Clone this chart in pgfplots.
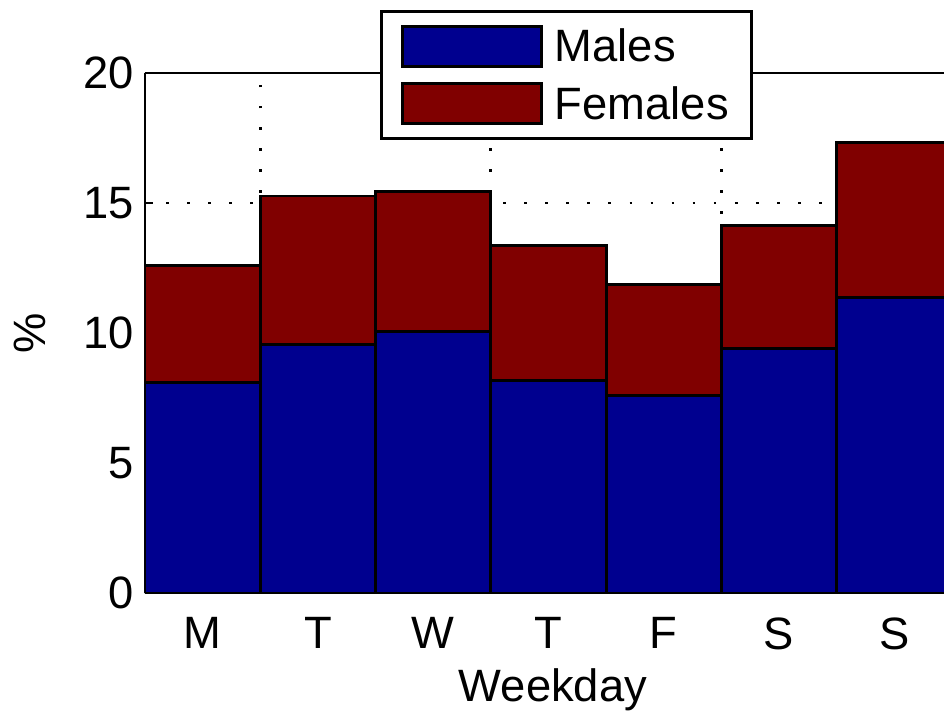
\documentclass[border=0pt]{standalone}
\usepackage{pgfplots}
\pgfplotsset{compat=1.18}
\usepackage{fontspec}
\setmainfont{Liberation Sans}
\definecolor{mblue}{RGB}{0,0,143}
\definecolor{mred}{RGB}{128,0,0}
\newcommand{\bigfont}{\fontsize{34}{40}\selectfont}
\begin{document}
\begin{tikzpicture}
\begin{axis}[
  name=ax,
  scale only axis,
  width=605.25pt, height=390pt,
  xmin=0.5, xmax=7.5, ymin=0, ymax=20,
  ybar stacked, bar width=1,
  separate axis lines,
  axis line style={line width=2.2pt},
  every outer x axis line/.append style={line width=2.2pt},
  every outer y axis line/.append style={line width=2.2pt},
  xtick={1,2,3,4,5,6,7},
  xticklabels={M,T,W,T,F,S,S},
  xtick style={draw=none},
  ytick={0,5,10,15,20},
  ytick style={line width=1.5pt, black},
  tick align=inside,
  major tick length=6pt,
  ymajorgrids,
  extra x ticks={1.5,3.5,5.5},
  extra x tick labels={},
  extra x tick style={xmajorgrids=true, xtick style={draw=none}},
  grid style={draw=black, line width=2.2pt, dash pattern=on 2pt off 13.8pt},
  major grid style={draw=black, line width=2.2pt, dash pattern=on 2pt off 13.8pt},
  /pgf/number format/assume math mode=true,
  ticklabel style={font=\bigfont},
  yticklabel style={xshift=-5pt},
  xticklabel style={yshift=-15pt},
  label style={font=\bigfont},
  xlabel={Weekday},
  ylabel={\%},
  xlabel style={at={(axis description cs:0.5055,-0.186)}, anchor=center},
  ylabel style={at={(axis description cs:-0.1425,0.5)}, anchor=center},
  legend style={at={(axis description cs:0.2912,1.121)}, anchor=north west,
    font=\bigfont, draw=black, line width=2.2pt, fill=white,
    inner xsep=15pt, inner ysep=10pt, row sep=11pt},
  legend cell align=left,
  legend image code/.code={\draw[#1,line width=2.2pt] (0pt,-15pt) rectangle (104pt,15pt); \path[draw=none,fill=none] (0pt,0pt) -- (112pt,0pt);},
]
\addplot[fill=mblue, draw=black, line width=2.2pt] coordinates {
  (1,8.08) (2,9.54) (3,10.04) (4,8.19) (5,7.58) (6,9.42) (7,11.35)};
\addplot[fill=mred, draw=black, line width=2.2pt] coordinates {
  (1,4.50) (2,5.73) (3,5.42) (4,5.19) (5,4.27) (6,4.70) (7,5.96)};
\legend{Males,Females}
\draw[line width=2.2pt, black] (rel axis cs:0,1) -- (rel axis cs:1,1);
\end{axis}
\pgfresetboundingbox
\useasboundingbox ([xshift=-108.75pt,yshift=-91.5pt]ax.south west) rectangle ([xshift=599.25pt,yshift=444.75pt]ax.south west);
\end{tikzpicture}
\end{document}
